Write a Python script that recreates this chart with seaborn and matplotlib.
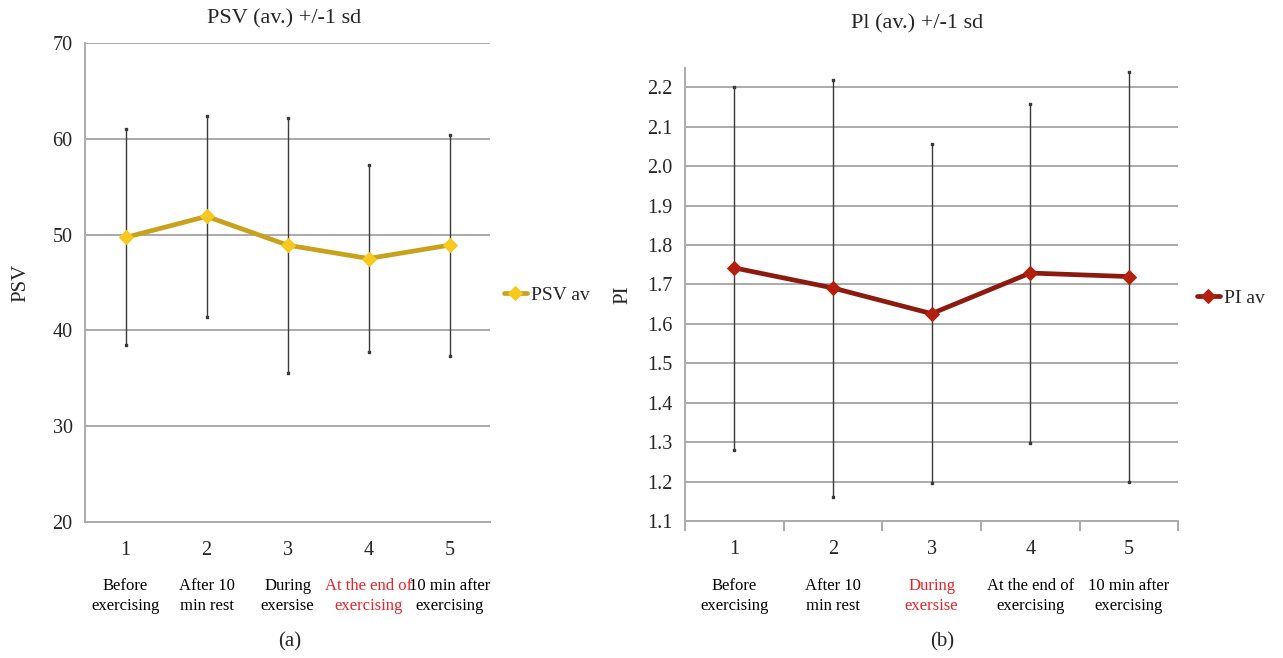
import numpy as np
import pandas as pd
import seaborn as sns
import matplotlib.pyplot as plt
from matplotlib import transforms

# data
stages = ["1", "2", "3", "4", "5"]
stage_names = ["Before\nexercising", "After 10\nmin rest", "During\nexersise",
               "At the end of\nexercising", "10 min after\nexercising"]

psv_mean = [49.7, 51.9, 48.9, 47.5, 48.9]
psv_upper = [61.0, 62.4, 62.2, 57.3, 60.4]
psv_lower = [38.5, 41.4, 35.5, 37.7, 37.3]

pi_mean = [1.742, 1.691, 1.626, 1.729, 1.720]
pi_upper = [2.200, 2.218, 2.056, 2.158, 2.238]
pi_lower = [1.279, 1.162, 1.197, 1.298, 1.200]

sns.set_style("white")
plt.rcParams['font.family'] = ['Liberation Serif', 'DejaVu Serif']

GRID = "#ababab"
fig = plt.figure(figsize=(12.83, 6.58), dpi=100)
ax1 = fig.add_axes([0.0663, 0.2067, 0.3157, 0.728])
ax2 = fig.add_axes([0.534, 0.2082, 0.3843, 0.689])


def draw_panel(ax, mean, lower, upper, line_col, mark_col, label, red_idx, name_y):
    x = np.arange(len(stages))
    df = pd.DataFrame({"x": x, "y": mean})
    # sd bars
    ax.vlines(x, lower, upper, color="#3a3a3a", lw=1.0, zorder=2)
    ax.scatter(x, lower, marker="s", s=3, color="#3a3a3a", zorder=2)
    ax.scatter(x, upper, marker="s", s=3, color="#3a3a3a", zorder=2)
    sns.lineplot(data=df, x="x", y="y", ax=ax, color=line_col, lw=3.4,
                 marker="D", markersize=7, markerfacecolor=mark_col,
                 markeredgecolor=mark_col, label=label, zorder=3)
    ax.set_xlim(-0.5, len(stages) - 0.5)
    ax.set_xticks(x)
    ax.set_xticklabels(stages, fontsize=14.5)
    ax.set_xlabel("")
    for sp in ["top", "right"]:
        ax.spines[sp].set_visible(False)
    for sp in ["left", "bottom"]:
        ax.spines[sp].set_color(GRID)
        ax.spines[sp].set_linewidth(1.4)
    ax.grid(axis="y", color=GRID, lw=1.4)
    ax.set_axisbelow(True)
    trans = transforms.blended_transform_factory(ax.transData, ax.transAxes)
    for i, name in enumerate(stage_names):
        ax.text(i, name_y, name, transform=trans, ha="center", va="center",
                fontsize=12, linespacing=1.3,
                color="#e8232a" if i == red_idx else "black")
    ax.tick_params(axis="y", labelsize=14.5, length=0, pad=9)


draw_panel(ax1, psv_mean, psv_lower, psv_upper, "#c9a21c", "#f7c81e", "PSV av", 3, -0.155)
ax1.set_ylim(20, 70)
ax1.set_yticks([20, 30, 40, 50, 60, 70])
ax1.tick_params(axis="x", length=0, pad=14)
ax1.set_ylabel("PSV", fontsize=15, labelpad=16)
ax1.legend(loc="center left", bbox_to_anchor=(1.0, 0.474), frameon=False,
           fontsize=14, handlelength=1.2, handletextpad=0.2, borderaxespad=0.3)

draw_panel(ax2, pi_mean, pi_lower, pi_upper, "#8c1a0e", "#b3200f", "PI av", 2, -0.166)
ax2.set_ylim(1.1, 2.25)
ax2.set_yticks(np.round(np.arange(1.1, 2.21, 0.1), 1))
ax2.set_xticks(np.arange(-0.5, len(stages), 1.0), minor=True)
ax2.tick_params(axis="x", which="major", length=0, pad=14)
ax2.tick_params(axis="x", which="minor", length=7, color=GRID, width=1.4,
                direction="out", bottom=True)
ax2.set_ylabel("PI", fontsize=15, labelpad=11)
ax2.legend(loc="center left", bbox_to_anchor=(1.01, 0.492), frameon=False,
           fontsize=14, handlelength=1.2, handletextpad=0.2, borderaxespad=0.3)

fig.text(284 / 1283, 1 - 19 / 658, "PSV (av.) +/-1 sd", ha="center", va="center", fontsize=16)
fig.text(917 / 1283, 1 - 24 / 658, "Pl (av.) +/-1 sd", ha="center", va="center", fontsize=16)
fig.text(290 / 1283, 1 - 642 / 658, "(a)", ha="center", va="center", fontsize=15)
fig.text(942 / 1283, 1 - 642 / 658, "(b)", ha="center", va="center", fontsize=15)

fig.savefig("out.png", dpi=100)
